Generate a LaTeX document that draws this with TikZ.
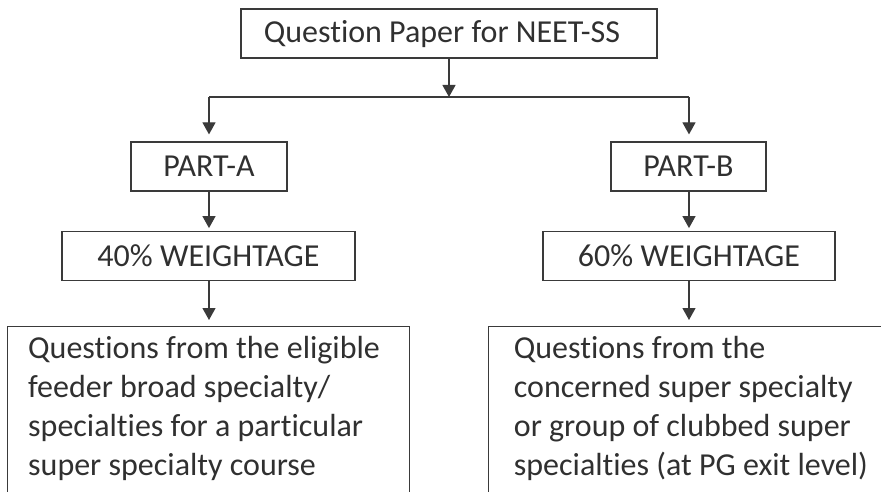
\documentclass[tikz,border=0pt]{standalone}
\usepackage{fontspec}
\setmainfont[Ligatures={NoCommon,NoContextual}]{Carlito}
\usetikzlibrary{arrows.meta}
\definecolor{ink}{HTML}{3A3A3A}
\definecolor{txt}{HTML}{303030}
\tikzset{
  box/.style={draw=ink, line width=1.2pt, rectangle, inner sep=0pt, minimum height=49pt, text=txt, font=\fontsize{32}{39}\selectfont},
  arr/.style={draw=ink, line width=1.2pt, -{Triangle[width=13pt,length=12pt]}},
  conn/.style={draw=ink, line width=1.2pt},
  para/.style={inner sep=0pt, anchor=north west, align=left, text=txt, font=\fontsize{32}{39}\selectfont},
}
\begin{document}
\begin{tikzpicture}[x=1pt,y=1pt]
\useasboundingbox (0,0) rectangle (881,-492);
\clip (0,0) rectangle (881,-492);
\node[box, minimum width=416pt] (top) at (449,-33.6) {\hspace*{-14pt}Question Paper for NEET-SS};
\node[box, minimum width=156pt] (pa) at (209,-166.5) {PART-A};
\node[box, minimum width=155pt] (pb) at (688.5,-166.5) {PART-B};
\node[box, minimum width=293pt] (wa) at (208.5,-256.2) {40\% WEIGHTAGE};
\node[box, minimum width=292pt] (wb) at (689,-256.2) {60\% WEIGHTAGE};
\node[draw=ink, line width=1.2pt, rectangle, inner sep=0pt, anchor=north west, minimum width=402pt, minimum height=190pt] (qa) at (7,-326) {};
\node[draw=ink, line width=1.2pt, rectangle, inner sep=0pt, anchor=north west, minimum width=420pt, minimum height=190pt] (qb) at (487.7,-326) {};
\node[para] (ta) at (28,-336) {Questions from the eligible\\feeder broad specialty/\\specialties for a particular\\super specialty course};
\node[para] (tb) at (513.7,-336) {Questions from the\\concerned super specialty\\or group of clubbed super\\specialties (at PG exit level)};
\coordinate (j) at (449,-97);
\coordinate (jl) at (209,-97);
\coordinate (jr) at (689,-97);
\draw[arr] (top.south) -- (j);
\draw[conn] (jl) -- (jr);
\draw[arr, shorten >=7pt] (jl) -- (pa.north);
\draw[arr, shorten >=7pt] (jr) -- (pb.north -| jr);
\draw[arr, shorten >=3pt] (pa.south) -- (wa.north -| pa.south);
\draw[arr, shorten >=3pt] (pb.south -| jr) -- (wb.north -| jr);
\draw[arr, shorten >=6pt] (wa.south -| pa.south) -- (qa.north -| pa.south);
\draw[arr, shorten >=6pt] (wb.south -| jr) -- (qb.north -| jr);
\end{tikzpicture}
\end{document}
